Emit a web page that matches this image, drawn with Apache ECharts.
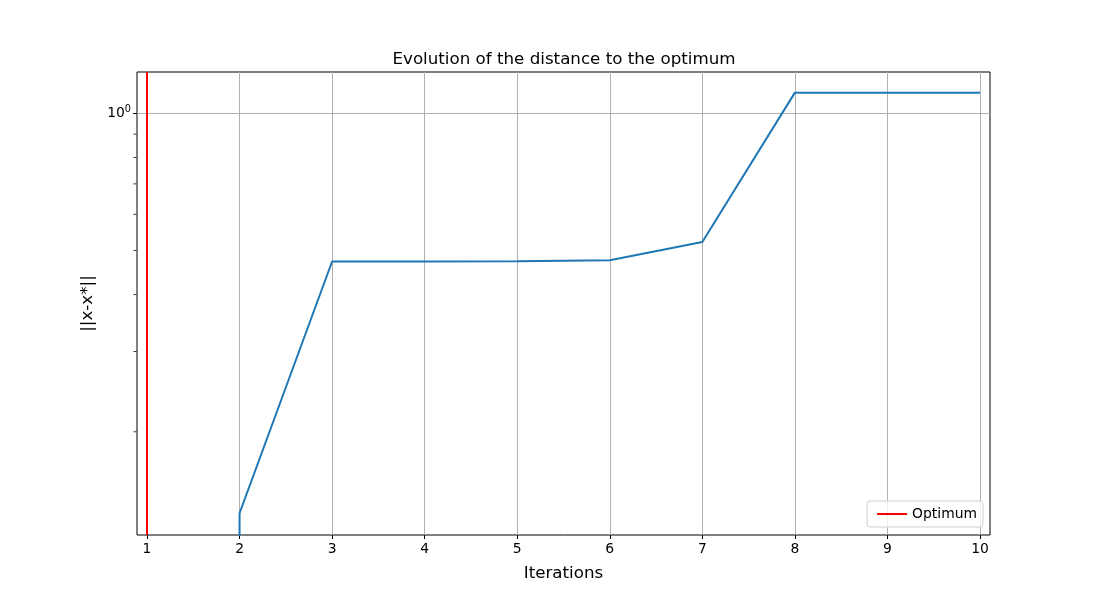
<!DOCTYPE html>
<html>
<head>
  <meta charset="utf-8">
  <title>Evolution of the distance to the optimum</title>
  <script src="https://cdn.jsdelivr.net/npm/echarts@6/dist/echarts.min.js"></script>
  <style>
    html, body { margin: 0; padding: 0; background: #fff; }
    #main { width: 1100px; height: 600px; }
  </style>
</head>
<body>
  <div id="main"></div>
  <script>
    // data (log scale on y)
    var iterations = [1, 2, 3, 4, 5, 6, 7, 8, 9, 10];
    var distance = [0, 0.1325, 0.4728, 0.4731, 0.4735, 0.4760, 0.522, 1.110, 1.110, 1.110];
    var optimumX = 1;
    var xTicks = [1, 2, 3, 4, 5, 6, 7, 8, 9, 10];
    var yMajorTicks = [1];
    var yMinorTicks = [0.9, 0.8, 0.7, 0.6, 0.5, 0.4, 0.3, 0.2];
    var yMin = 0.1187, yMax = 1.232;
    var xMin = 0.892, xMax = 10.108;

    var log10 = function (v) { return v > 0 ? Math.log10(v) : -300; };  // like matplotlib's clip

    var lineData = iterations.map(function (x, i) { return [x, log10(distance[i])]; });
    var majorLog = yMajorTicks.map(log10);
    // minor ticks of the log axis, drawn as tiny marks on the left edge
    var minorData = yMinorTicks.map(function (v) { return [xMin, log10(v)]; });

    // grid lines as mark lines so they sit on the real tick values
    var gridLines = xTicks.map(function (x) { return { xAxis: x }; })
      .concat(majorLog.map(function (y) { return { yAxis: y }; }));

    var myChart = echarts.init(document.getElementById('main'));
    var font = 'DejaVu Sans';
    option = {
      animation: false,
      backgroundColor: '#fff',
      textStyle: { fontFamily: font },
      title: {
        text: 'Evolution of the distance to the optimum',
        left: 559, top: 46, textAlign: 'center',
        textStyle: { fontFamily: font, fontSize: 16.7, fontWeight: 'normal', color: '#000' }
      },
      legend: {
        data: [{ name: 'Optimum', icon: 'path://M0,0 L30,0 L30,2 L0,2 Z' }],
        right: 117, bottom: 73,
        itemWidth: 30, itemHeight: 2, itemGap: 8,
        padding: [6, 6, 6, 10],
        borderColor: '#d0d0d0', borderWidth: 1, borderRadius: 3,
        backgroundColor: 'rgba(255,255,255,0.8)',
        textStyle: { fontFamily: font, fontSize: 13.9, color: '#000' }
      },
      grid: {
        left: 137, right: 110, top: 72, bottom: 65,
        show: true, borderColor: '#000', borderWidth: 1, containLabel: false
      },
      xAxis: {
        type: 'value', min: xMin, max: xMax,
        name: 'Iterations', nameLocation: 'middle', nameGap: 30,
        nameTextStyle: { fontFamily: font, fontSize: 16.7, color: '#000' },
        axisLine: { show: false, onZero: false },
        axisTick: { show: true, length: 4, customValues: xTicks, lineStyle: { color: '#000', width: 1 } },
        axisLabel: { color: '#000', fontSize: 13.9, margin: 7, customValues: xTicks },
        splitLine: { show: false }
      },
      yAxis: {
        type: 'value', min: log10(yMin), max: log10(yMax),
        name: '||x-x*||', nameLocation: 'middle', nameGap: 40,
        nameTextStyle: { fontFamily: font, fontSize: 16.7, color: '#000' },
        axisLine: { show: false, onZero: false },
        axisTick: { show: true, length: 4, customValues: majorLog, lineStyle: { color: '#000', width: 1 } },
        axisLabel: {
          color: '#000', margin: 6, customValues: majorLog,
          formatter: function (v) { return '{b|10}{s|' + Math.round(v) + '}'; },
          rich: {
            b: { fontFamily: font, fontSize: 13.9, color: '#000' },
            s: { fontFamily: font, fontSize: 9.7, color: '#000', verticalAlign: 'bottom', padding: [0, 0, 8, 0] }
          }
        },
        splitLine: { show: false }
      },
      series: [
        {
          name: 'distance',
          type: 'line',
          data: lineData,
          showSymbol: false,
          clip: true,
          lineStyle: { color: '#1f77b4', width: 2 },
          itemStyle: { color: '#1f77b4' },
          markLine: {
            symbol: ['none', 'none'],
            silent: true,
            label: { show: false },
            lineStyle: { color: '#b0b0b0', width: 1, type: 'solid' },
            data: gridLines,
            z: 1
          },
          z: 3
        },
        {
          name: 'Optimum',
          type: 'line',
          data: [],
          itemStyle: { color: 'red' },
          lineStyle: { color: 'red', width: 2 },
          markLine: {
            symbol: ['none', 'none'],
            silent: true,
            label: { show: false },
            lineStyle: { color: 'red', width: 2, type: 'solid' },
            data: [{ xAxis: optimumX }]
          },
          z: 4
        },
        {
          name: 'minor',
          type: 'scatter',
          data: minorData,
          symbol: 'rect',
          symbolSize: [3, 1],
          symbolOffset: [-2, 0],
          clip: false,
          silent: true,
          itemStyle: { color: '#000' },
          z: 5
        }
      ]
    };
    myChart.setOption(option);
  </script>
</body>
</html>
